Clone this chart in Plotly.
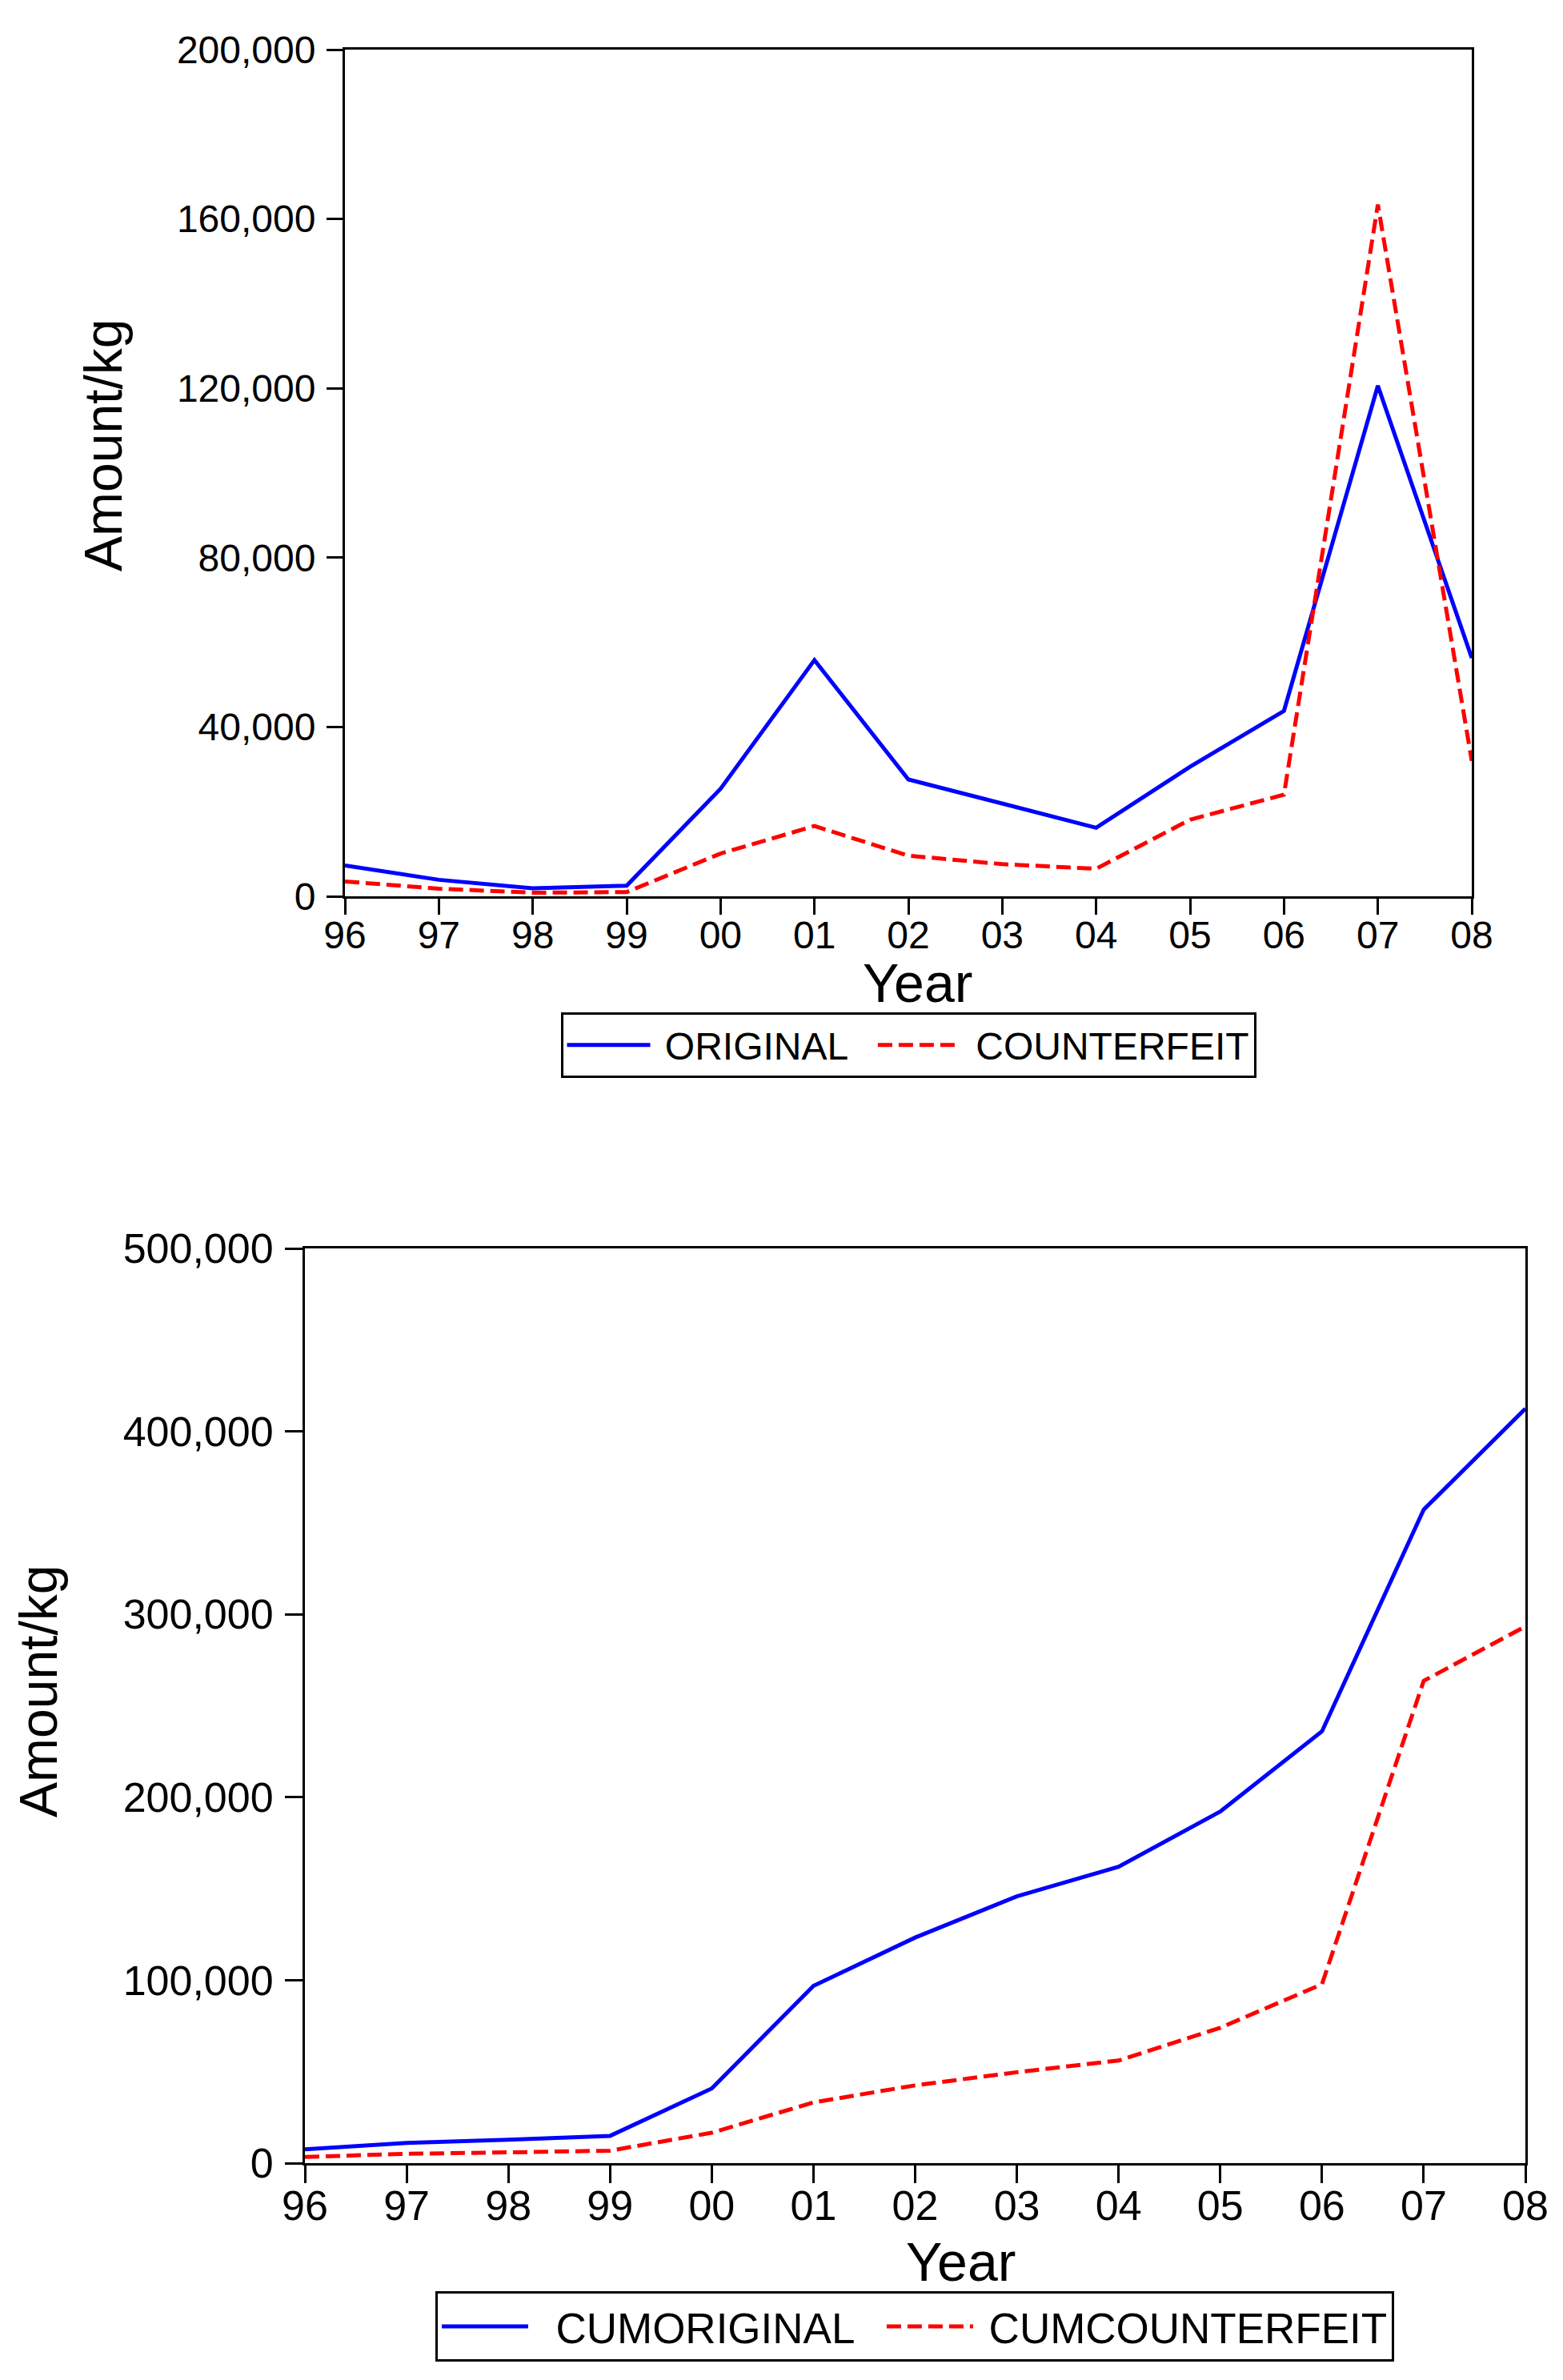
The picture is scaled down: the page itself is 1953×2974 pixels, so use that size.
import plotly.graph_objects as go

# ---- data ----
years = ["96", "97", "98", "99", "00", "01", "02", "03", "04", "05", "06", "07", "08"]
original = [7300, 3900, 1900, 2500, 25400, 55800, 27600, 22000, 16200, 30600, 43800, 120600, 56300]
counterfeit = [3500, 1800, 850, 1000, 10100, 16600, 9600, 7600, 6500, 18100, 24000, 163400, 32000]
cum_original = [7600, 11000, 12800, 14900, 40800, 96900, 123300, 145800, 162000, 192200, 236000, 357200, 412400]
cum_counterfeit = [3400, 5100, 5900, 6800, 16600, 33200, 42500, 49700, 56100, 74000, 97800, 263600, 293400]

top_yticks = [0, 40000, 80000, 120000, 160000, 200000]
bot_yticks = [0, 100000, 200000, 300000, 400000, 500000]

W, H = 1953, 2974
FONT = "Liberation Sans"
BLUE = "#0000FF"
RED = "#FF0000"
LW = 5
DASH = "18px,8px"
NB = "\u00a0"


def px(v):
    return 1 - v / H


fig = go.Figure()
fig.add_trace(go.Scatter(x=years, y=original, name=NB + "ORIGINAL" + NB * 2, mode="lines",
                         line=dict(color=BLUE, width=LW), xaxis="x", yaxis="y", legend="legend"))
fig.add_trace(go.Scatter(x=years, y=counterfeit, name=NB + "COUNTERFEIT", mode="lines",
                         line=dict(color=RED, width=LW, dash=DASH), xaxis="x", yaxis="y", legend="legend"))
fig.add_trace(go.Scatter(x=years, y=cum_original, name=NB * 2 + "CUMORIGINAL" + NB * 2, mode="lines",
                         line=dict(color=BLUE, width=LW), xaxis="x2", yaxis="y2", legend="legend2"))
fig.add_trace(go.Scatter(x=years, y=cum_counterfeit, name=NB + "CUMCOUNTERFEIT", mode="lines",
                         line=dict(color=RED, width=LW, dash=DASH), xaxis="x2", yaxis="y2", legend="legend2"))


def xaxis_style(domain, anchor, fsize, tlen):
    return dict(domain=domain, anchor=anchor, type="category", range=[0, 12], automargin=False,
                showgrid=False, zeroline=False, showline=True, linecolor="black", linewidth=3,
                mirror=True, ticks="outside", ticklen=tlen, tickwidth=2.5, tickcolor="black",
                ticklabelstandoff=-16,
                tickfont=dict(family=FONT, size=fsize, color="black"), fixedrange=True)


def yaxis_style(domain, anchor, rng, tickvals, fsize, tlen):
    return dict(domain=domain, anchor=anchor, range=rng, tickvals=tickvals, tickformat=",",
                automargin=False, showgrid=False, zeroline=False, showline=True,
                linecolor="black", linewidth=3, ticklabelstandoff=4,
                mirror=True, ticks="outside", ticklen=tlen, tickwidth=2.5, tickcolor="black",
                tickfont=dict(family=FONT, size=fsize, color="black"), fixedrange=True)


legend_common = dict(orientation="h", xanchor="center", yanchor="top", bordercolor="black",
                     borderwidth=3, bgcolor="white")

fig.update_layout(
    template="none",
    width=W, height=H, paper_bgcolor="white", plot_bgcolor="white",
    margin=dict(l=0, r=0, t=0, b=0, pad=0, autoexpand=False),
    showlegend=True, hovermode=False,
    xaxis=xaxis_style([423 / W, 1831 / W], "y", 48, 20),
    yaxis=yaxis_style([px(1112), px(54)], "x", [0, 200000], top_yticks, 48, 20),
    xaxis2=xaxis_style([373 / W, 1898 / W], "y2", 52, 22),
    yaxis2=yaxis_style([px(2695), px(1552)], "x2", [0, 500000], bot_yticks, 52, 22),
    legend=dict(x=1127 / W, y=px(1257), itemwidth=104,
                font=dict(family=FONT, size=48, color="black"), **legend_common),
    legend2=dict(x=1135 / W, y=px(2855), itemwidth=108,
                 font=dict(family=FONT, size=53, color="black"), **legend_common),
    annotations=[
        dict(text="Year", x=1138 / W, y=px(1220), xref="paper", yref="paper", showarrow=False,
             xanchor="center", yanchor="middle", font=dict(family=FONT, size=68, color="black")),
        dict(text="Amount/kg", x=121 / W, y=px(548), xref="paper", yref="paper", showarrow=False,
             textangle=-90, xanchor="center", yanchor="middle", font=dict(family=FONT, size=66, color="black")),
        dict(text="Year", x=1192 / W, y=px(2818), xref="paper", yref="paper", showarrow=False,
             xanchor="center", yanchor="middle", font=dict(family=FONT, size=68, color="black")),
        dict(text="Amount/kg", x=40 / W, y=px(2105), xref="paper", yref="paper", showarrow=False,
             textangle=-90, xanchor="center", yanchor="middle", font=dict(family=FONT, size=66, color="black")),
    ],
)

fig.write_html("out.html", config={"displayModeBar": False})
